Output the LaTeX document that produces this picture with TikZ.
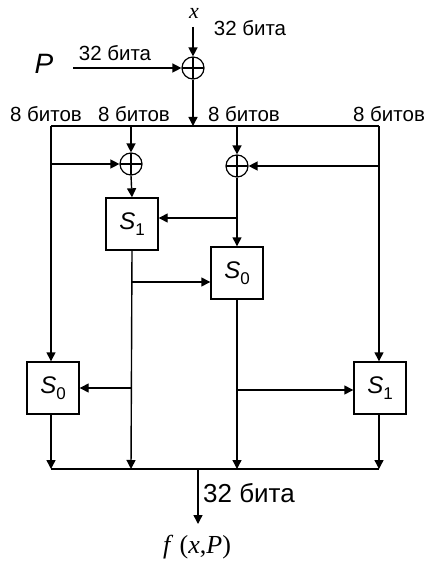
\documentclass[tikz,border=0pt]{standalone}
\usepackage{fontspec}
\setmainfont{Liberation Sans}
\newfontfamily\serifit{Liberation Serif}
\usetikzlibrary{arrows.meta}
\newcommand{\sboxlabel}[1]{\textit{S}\raisebox{-0.45ex}{\fontsize{17}{18}\selectfont #1}}
\begin{document}
\begin{tikzpicture}[x=1pt,y=-1pt,
  line width=1.4pt,
  arr/.style={-{Triangle[length=9pt,width=9pt]}},
  xorgate/.style={circle,draw,line width=1.2pt,minimum size=22pt,inner sep=0pt,
    path picture={\draw[line width=1.2pt] (path picture bounding box.north)--(path picture bounding box.south)
      (path picture bounding box.west)--(path picture bounding box.east);}},
  sbox/.style={draw,line width=1.4pt,minimum width=52pt,minimum height=52pt,inner sep=0pt,
    font=\fontsize{24}{26}\selectfont},
  lbl/.style={font=\fontsize{20.5}{23}\selectfont,inner sep=0pt},
  biglbl/.style={font=\fontsize{26}{29}\selectfont,inner sep=0pt}
]
\useasboundingbox (0,0) rectangle (426,564);
% top inputs
\node[inner sep=0pt,font=\serifit\itshape\fontsize{22}{24}\selectfont] (xl) at (194,13) {x};
\coordinate (xin) at (193,27);
\node[xorgate] (x0) at (193,68) {};
\node[lbl] (l32a) at (250,28) {32 бита};
\node[inner sep=0pt,font=\itshape\fontsize{28}{30}\selectfont] (pl) at (44,64) {P};
\coordinate (pin) at (73,68);
\node[lbl] (l32b) at (115,53) {32 бита};
\draw[arr] (xin) -- (x0.north);
\draw[arr] (pin) -- (x0.west);
% bus
\coordinate (b1) at (51,126);
\coordinate (b2) at (131,126);
\coordinate (b3) at (237,126);
\coordinate (b4) at (379,126);
\coordinate (bm) at (193,126);
\draw[arr] (x0.south) -- (bm);
\draw (b1) -- (b4);
\node[lbl] (l8a) at (46,114) {8 битов};
\node[lbl] (l8b) at (134,114) {8 битов};
\node[lbl] (l8c) at (244,114) {8 битов};
\node[lbl] (l8d) at (389,114) {8 битов};
% xors and boxes
\node[xorgate] (x1) at (131,164) {};
\node[xorgate] (x2) at (237,166) {};
\node[sbox] (s1a) at (132,224) {\sboxlabel{1}};
\node[sbox] (s0a) at (237,273) {\sboxlabel{0}};
\node[sbox] (s0b) at (53,388) {\sboxlabel{0}};
\node[sbox] (s1b) at (380,388) {\sboxlabel{1}};
% branch points
\coordinate (j1) at (51,164);
\coordinate (j2) at (379,166);
\coordinate (j3) at (237,218);
\coordinate (j4) at (131,282);
\coordinate (j5) at (131,388);
\coordinate (j6) at (237,390);
% bottom bus
\coordinate (o1) at (51,469);
\coordinate (o2) at (131,469);
\coordinate (o3) at (237,469);
\coordinate (o4) at (379,469);
\coordinate (om) at (198,469);
\coordinate (oend) at (198,524);
% connections
\draw[arr] (b1) -- (b1 |- s0b.north);
\draw[arr] (j1) -- (x1.west);
\draw[arr] (b2) -- (x1.north);
\draw[arr] (x1.south) -- (s1a.north);
\draw[arr] (b3) -- (x2.north);
\draw[arr] (x2.south) -- (s0a.north);
\draw[arr] (j3) -- (j3 -| s1a.east);
\draw[arr] (b4) -- (b4 |- s1b.north);
\draw[arr] (j2) -- (x2.east);
\draw[arr] (s1a.south) -- (o2);
\draw[arr] (j4) -- (j4 -| s0a.west);
\draw[arr] (j5) -- (j5 -| s0b.east);
\draw[arr] (s0a.south) -- (o3);
\draw[arr] (j6) -- (j6 -| s1b.west);
\draw[arr] (s0b.south -| o1) -- (o1);
\draw[arr] (s1b.south -| o4) -- (o4);
\draw (o1) -- (o4);
\draw[arr] (om) -- (oend);
\node[biglbl] (l32c) at (249,493) {32 бита};
\node[inner sep=0pt,font=\serifit\fontsize{26}{28}\selectfont] (fl) at (197,547) {\textit{f}\ (\textit{x},\textit{P})};
\end{tikzpicture}
\end{document}
